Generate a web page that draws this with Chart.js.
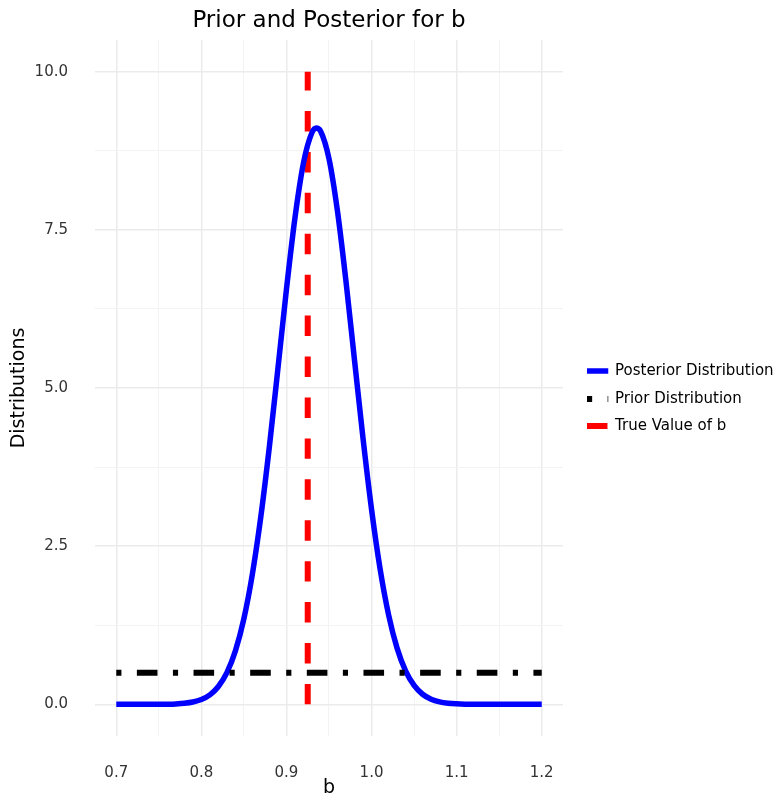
<!DOCTYPE html>
<html>
<head>
<meta charset="utf-8">
<script src="https://cdn.jsdelivr.net/npm/chart.js@4"></script>
<style>
  body { margin: 0; background: #fff; }
  canvas { display: block; }
</style>
</head>
<body>
<canvas id="chart" width="778" height="797"></canvas>
<script>
// values
const bValues = [0.70, 0.71, 0.72, 0.73, 0.74, 0.75, 0.76, 0.77, 0.78, 0.79,
  0.80, 0.81, 0.82, 0.83, 0.84, 0.85, 0.86, 0.87, 0.88, 0.89,
  0.90, 0.91, 0.92, 0.93, 0.935, 0.94, 0.95, 0.96, 0.97, 0.98, 0.99,
  1.00, 1.01, 1.02, 1.03, 1.04, 1.05, 1.06, 1.07, 1.08, 1.09,
  1.10, 1.11, 1.12, 1.13, 1.14, 1.15, 1.16, 1.17, 1.18, 1.19, 1.20];
const posteriorDensity = [0, 0, 0, 0.0001, 0.0004, 0.0012, 0.003, 0.0072, 0.0167, 0.0365,
  0.076, 0.150, 0.282, 0.501, 0.846, 1.356, 2.063, 2.978, 4.082, 5.311,
  6.560, 7.690, 8.557, 9.038, 9.11, 9.062, 8.624, 7.791, 6.680, 5.437, 4.201,
  3.081, 2.145, 1.417, 0.889, 0.529, 0.299, 0.160, 0.082, 0.039, 0.018,
  0.008, 0.003, 0.0013, 0.0005, 0.0002, 0, 0, 0, 0, 0, 0];
const priorX = [0.7, 1.2];
const priorDensity = [0.5, 0.5];
const trueB = 0.925;
const trueLineY = [0, 10];

const xTicks = [0.7, 0.75, 0.8, 0.85, 0.9, 0.95, 1.0, 1.05, 1.1, 1.15, 1.2];
const xTickLabels = ['0.7', '', '0.8', '', '0.9', '', '1.0', '', '1.1', '', '1.2'];
const yTicks = [0, 1.25, 2.5, 3.75, 5, 6.25, 7.5, 8.75, 10];
const yTickLabels = ['0.0', '', '2.5', '', '5.0', '', '7.5', '', '10.0'];

const seriesNames = ['Posterior Distribution', 'Prior Distribution', 'True Value of b'];
const FONT = '"DejaVu Sans", sans-serif';

const priorDash = [5.15, 15.45, 20.6, 15.45];
const trueDash = [20.46, 20.46];

const gridColor = (ctx) => (ctx.index % 2 === 0 ? '#ebebeb' : '#f3f3f3');
const gridWidth = (ctx) => (ctx.index % 2 === 0 ? 1.5 : 1);

const textPlugin = {
  id: 'ggText',
  afterDraw(chart) {
    const ctx = chart.ctx;
    const area = chart.chartArea;
    const midX = (area.left + area.right) / 2;
    ctx.save();
    ctx.fillStyle = '#000';
    ctx.textBaseline = 'middle';
    ctx.textAlign = 'center';
    ctx.font = '23px ' + FONT;
    ctx.fillText('Prior and Posterior for b', midX, 21);

    ctx.font = '19px ' + FONT;
    ctx.fillText('b', midX, 788);
    ctx.save();
    ctx.translate(19, (area.top + area.bottom) / 2);
    ctx.rotate(-Math.PI / 2);
    ctx.fillText('Distributions', 0, 0);
    ctx.restore();

    // legend
    const rows = [371, 399, 426];
    const ds = chart.data.datasets;
    const order = [1, 2, 0]; // posterior, prior, true value
    ctx.textAlign = 'left';
    ctx.font = '15px ' + FONT;
    rows.forEach((y, i) => {
      const d = ds[order[i]];
      ctx.save();
      ctx.beginPath();
      ctx.rect(587, y - 10, 21.5, 20);
      ctx.clip();
      ctx.strokeStyle = d.borderColor;
      ctx.lineWidth = d.borderWidth;
      ctx.lineCap = 'butt';
      ctx.setLineDash(d.borderDash || []);
      ctx.beginPath();
      ctx.moveTo(587, y);
      ctx.lineTo(608.5, y);
      ctx.stroke();
      ctx.restore();
      ctx.fillStyle = '#000';
      ctx.fillText(seriesNames[i], 615, y);
    });
    ctx.restore();
  }
};

new Chart(document.getElementById('chart'), {
  type: 'line',
  data: {
    datasets: [
      {
        label: seriesNames[2],
        data: trueLineY.map(v => ({ x: trueB, y: v })),
        borderColor: '#ff0000',
        borderWidth: 6,
        borderDash: trueDash,
        pointRadius: 0,
        order: 3
      },
      {
        label: seriesNames[0],
        data: bValues.map((b, i) => ({ x: b, y: posteriorDensity[i] })),
        borderColor: '#0000ff',
        borderWidth: 5.5,
        cubicInterpolationMode: 'monotone',
        pointRadius: 0,
        order: 2
      },
      {
        label: seriesNames[1],
        data: priorX.map((b, i) => ({ x: b, y: priorDensity[i] })),
        borderColor: '#000000',
        borderWidth: 6,
        borderDash: priorDash,
        pointRadius: 0,
        order: 1
      }
    ]
  },
  options: {
    responsive: false,
    animation: false,
    devicePixelRatio: 1,
    layout: { padding: { left: 0, top: 40, right: 215, bottom: 0 } },
    plugins: {
      legend: { display: false },
      title: { display: false },
      tooltip: { enabled: false }
    },
    scales: {
      x: {
        type: 'linear',
        min: 0.675,
        max: 1.225,
        afterBuildTicks: (scale) => { scale.ticks = xTicks.map(v => ({ value: v })); },
        afterFit: (scale) => { scale.height = 61; },
        border: { display: false },
        grid: { color: gridColor, lineWidth: gridWidth, drawTicks: false },
        ticks: {
          autoSkip: false,
          maxRotation: 0,
          padding: 28,
          color: '#333333',
          font: { family: FONT, size: 15 },
          callback: (v, i) => xTickLabels[i]
        }
      },
      y: {
        type: 'linear',
        min: -0.5,
        max: 10.5,
        afterBuildTicks: (scale) => { scale.ticks = yTicks.map(v => ({ value: v })); },
        afterFit: (scale) => { scale.width = 95; },
        border: { display: false },
        grid: { color: gridColor, lineWidth: gridWidth, drawTicks: false },
        ticks: {
          autoSkip: false,
          padding: 27,
          color: '#333333',
          font: { family: FONT, size: 15 },
          callback: (v, i) => yTickLabels[i]
        }
      }
    }
  },
  plugins: [textPlugin]
});
</script>
</body>
</html>
